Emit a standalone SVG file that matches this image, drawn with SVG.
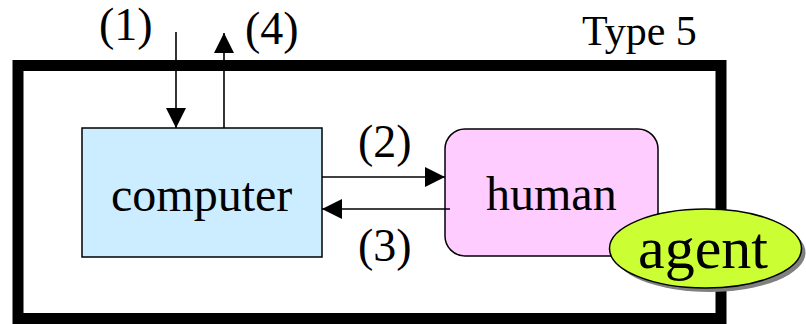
<svg xmlns="http://www.w3.org/2000/svg" width="806" height="324" viewBox="0 0 806 324">
  <style>
    .lbl { font-family: "Liberation Serif", "Times New Roman", serif; fill: #000; }
    .num { font-size: 46px; }
    .big { font-size: 48px; }
    .box { stroke: #000; stroke-width: 1.5; }
    .wire { stroke: #000; stroke-width: 1.6; fill: none; marker-end: url(#head); }
  </style>
  <defs>
    <marker id="head" markerUnits="userSpaceOnUse" markerWidth="20" markerHeight="20" refX="20" refY="10" orient="auto">
      <path d="M0,0 L20,10 L0,20 z" fill="#000"/>
    </marker>
  </defs>

  <rect width="806" height="324" fill="#fff"/>

  <!-- system boundary -->
  <g id="frame">
    <rect x="18" y="65.5" width="703" height="253" fill="none" stroke="#000" stroke-width="11"/>
    <text class="lbl" x="582" y="45" font-size="42">Type 5</text>
  </g>

  <g id="computer">
    <rect class="box" x="82" y="128" width="240" height="129" fill="#CCECFF"/>
    <text class="lbl big" x="111" y="211">computer</text>
  </g>

  <g id="human">
    <rect class="box" x="445" y="129" width="213" height="127" rx="20" ry="20" fill="#FFCCFF"/>
    <text class="lbl big" x="486" y="210">human</text>
  </g>

  <g id="connectors">
    <line class="wire" x1="176" y1="32" x2="176" y2="128"/>
    <text class="lbl num" x="99" y="40">(1)</text>
    <line class="wire" x1="224" y1="128" x2="224" y2="33"/>
    <text class="lbl num" x="245" y="44">(4)</text>
    <line class="wire" x1="322" y1="177" x2="445" y2="177"/>
    <text class="lbl num" x="358" y="157">(2)</text>
    <line class="wire" x1="450" y1="209" x2="322" y2="209"/>
    <text class="lbl num" x="358" y="261">(3)</text>
  </g>

  <g id="agent">
    <ellipse cx="709.5" cy="252.5" rx="96" ry="39.5" fill="#808080"/>
    <ellipse cx="705.5" cy="248.5" rx="96" ry="39.5" fill="#CCFF33" stroke="#000" stroke-width="1.5"/>
    <text class="lbl" x="638" y="268" font-size="60">agent</text>
  </g>
</svg>
